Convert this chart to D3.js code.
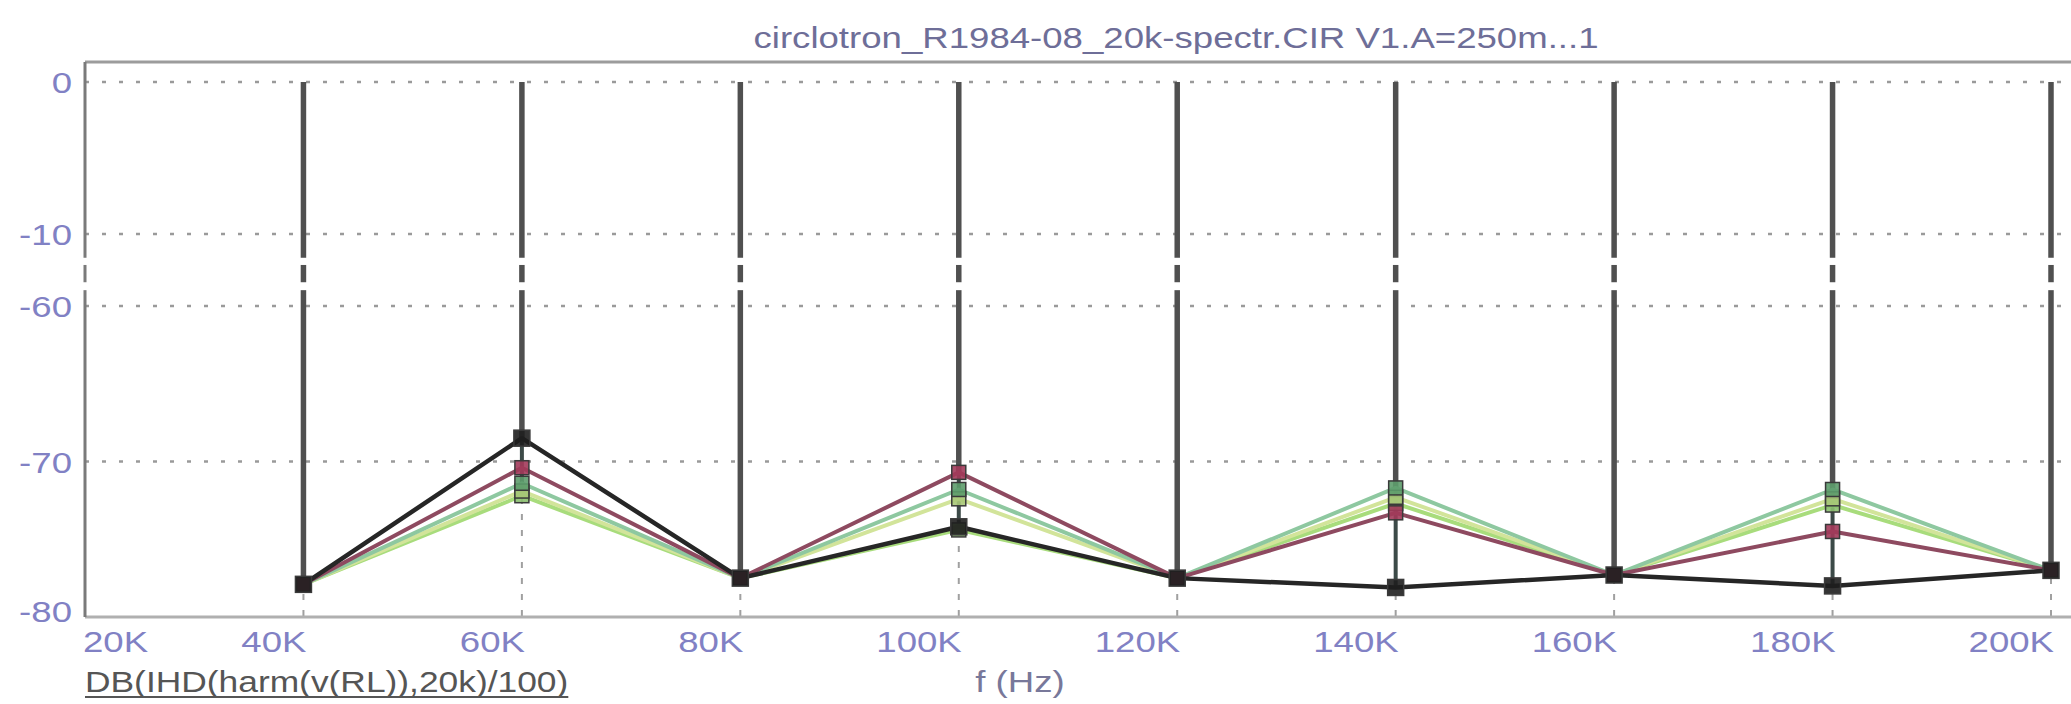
<!DOCTYPE html>
<html>
<head>
<meta charset="UTF-8">
<title>circlotron spectrum</title>
<style>
  html, body { margin: 0; padding: 0; background: #ffffff; }
  svg { display: block; }
  text { font-family: "Liberation Sans", Arial, sans-serif; }
</style>
</head>
<body>
<div id="vis"></div>
<script src="https://d3js.org/d3.v7.min.js"></script>
<script>
// harmonic frequencies (Hz) and the stepped curves, dB
var freqs = [40000, 60000, 80000, 100000, 120000, 140000, 160000, 180000, 200000];
var black  = [-77.9, -68.5, -77.5, -74.2, -77.5, -78.1, -77.3, -78.0, -77.0];
var maroon = [-77.9, -70.4, -77.5, -70.7, -77.5, -73.3, -77.3, -74.5, -77.0];
var green1 = [-77.9, -71.4, -77.5, -71.8, -77.5, -71.7, -77.3, -71.8, -77.0];
var green2 = [-77.9, -71.9, -77.5, -72.4, -77.5, -72.3, -77.3, -72.4, -77.0];
var green3 = [-77.9, -72.2, -77.5, -74.4, -77.5, -72.7, -77.3, -72.8, -77.0];

var xTicks = [20000, 40000, 60000, 80000, 100000, 120000, 140000, 160000, 180000, 200000];
var xTickLabels = ["20K", "40K", "60K", "80K", "100K", "120K", "140K", "160K", "180K", "200K"];
var yTicks = [0, -10, -60, -70, -80];
var yTickLabels = ["0", "-10", "-60", "-70", "-80"];

var title = "circlotron_R1984-08_20k-spectr.CIR V1.A=250m...1";
var yLabel = "DB(IHD(harm(v(RL)),20k)/100)";
var xLabel = "f (Hz)";

var width = 2071, height = 704;
var plotLeft = 85, plotRight = 2068, plotTop = 62;
var stretch = 1.22;   // the screenshot text is wide

var series = [
  {name: "green3", values: green3, color: "#a8dc7c", mark: "#8cc070"},
  {name: "green2", values: green2, color: "#d2e49a", mark: "#a8c878"},
  {name: "green1", values: green1, color: "#8ec8a0", mark: "#5d9c6c"},
  {name: "maroon", values: maroon, color: "#8e4a60", mark: "#a23a5a"},
  {name: "black",  values: black,  color: "#262626", mark: "#1e1e1e"}
];

var svg = d3.select("#vis").append("svg")
  .attr("width", width)
  .attr("height", height);

var x = d3.scaleLinear().domain([20000, 200000]).range([plotLeft, 2051]);
// broken axis: 0..-10 on top, -60..-80 below
var y = d3.scaleLinear().domain([-80, -60, -10, 0]).range([617, 306, 234, 82]);

function wideText(g, tx, ty, str, anchor, size, fill) {
  return g.append("text")
    .attr("transform", "translate(" + tx + "," + ty + ") scale(" + stretch + ",1)")
    .attr("text-anchor", anchor)
    .attr("font-size", size)
    .attr("fill", fill)
    .text(str);
}

// dotted grid
svg.append("g").selectAll("line")
  .data(yTicks.filter(function(d) { return d != -80; }))
  .enter().append("line")
  .attr("x1", plotLeft).attr("x2", plotRight)
  .attr("y1", function(d) { return y(d); })
  .attr("y2", function(d) { return y(d); })
  .attr("stroke", "#9a9a9a")
  .attr("stroke-width", 2.5)
  .attr("stroke-dasharray", "4,13");

svg.append("g").selectAll("line")
  .data(xTicks.slice(1))
  .enter().append("line")
  .attr("x1", function(d) { return x(d); })
  .attr("x2", function(d) { return x(d); })
  .attr("y1", y(0)).attr("y2", y(-80))
  .attr("stroke", "#a0a0a0")
  .attr("stroke-width", 2)
  .attr("stroke-dasharray", "6,10");

// frame
svg.append("line").attr("x1", plotLeft).attr("x2", width).attr("y1", plotTop).attr("y2", plotTop)
  .attr("stroke", "#9c9c9c").attr("stroke-width", 3);
svg.append("line").attr("x1", plotLeft).attr("x2", width).attr("y1", y(-80)).attr("y2", y(-80))
  .attr("stroke", "#b0b0b0").attr("stroke-width", 3);
svg.append("line").attr("x1", plotLeft).attr("x2", plotLeft).attr("y1", plotTop).attr("y2", y(-80))
  .attr("stroke", "#7a7a7a").attr("stroke-width", 3);

// spectral spikes from 0 dB down to the lowest curve
var maxs = freqs.map(function(f, i) {
  return d3.max(series, function(s) { return s.values[i]; });
});
var mins = freqs.map(function(f, i) {
  return d3.min(series, function(s) { return s.values[i]; });
});
svg.append("g").selectAll("line")
  .data(freqs)
  .enter().append("line")
  .attr("x1", function(d) { return x(d); })
  .attr("x2", function(d) { return x(d); })
  .attr("y1", y(0))
  .attr("y2", function(d, i) { return y(maxs[i]); })
  .attr("stroke", "#505050")
  .attr("stroke-width", 5.5);
svg.append("g").selectAll("line")
  .data(freqs)
  .enter().append("line")
  .attr("x1", function(d) { return x(d); })
  .attr("x2", function(d) { return x(d); })
  .attr("y1", function(d, i) { return y(maxs[i]); })
  .attr("y2", function(d, i) { return y(mins[i]); })
  .attr("stroke", "#3c4a48")
  .attr("stroke-width", 4);

// axis break
var b0 = y(-10), b1 = y(-60);
[[0.33, 0.43], [0.67, 0.78]].forEach(function(p) {
  svg.append("rect")
    .attr("x", plotLeft - 4).attr("width", width - plotLeft + 4)
    .attr("y", b0 + (b1 - b0) * p[0])
    .attr("height", (b1 - b0) * (p[1] - p[0]))
    .attr("fill", "#ffffff");
});

// curves
var line = d3.line()
  .x(function(d) { return x(d[0]); })
  .y(function(d) { return y(d[1]); });

series.forEach(function(s) {
  var pts = freqs.map(function(f, i) { return [f, s.values[i]]; });
  svg.append("path")
    .attr("d", line(pts))
    .attr("fill", "none")
    .attr("stroke", s.color)
    .attr("stroke-width", s.name == "black" ? 4.5 : 4)
    .attr("stroke-linejoin", "round");
});

series.forEach(function(s) {
  var sz = s.name == "black" ? 16 : 14;
  svg.append("g").selectAll("rect")
    .data(freqs)
    .enter().append("rect")
    .attr("x", function(d) { return x(d) - sz / 2; })
    .attr("y", function(d, i) { return y(s.values[i]) - sz / 2; })
    .attr("width", sz).attr("height", sz)
    .attr("fill", s.mark)
    .attr("stroke", "#3a3a3a")
    .attr("stroke-width", 1.5)
    .attr("fill-opacity", 0.9);
});

// tick labels
var labelColor = "#8181c4";
yTicks.forEach(function(d, i) {
  wideText(svg, 72, y(d) + (d == -80 ? 5 : 11), yTickLabels[i], "end", 30, labelColor);
});
xTicks.forEach(function(d, i) {
  if (i == 0) wideText(svg, plotLeft - 2, 652, xTickLabels[i], "start", 30, labelColor);
  else wideText(svg, x(d) + 3, 652, xTickLabels[i], "end", 30, labelColor);
});

// titles
wideText(svg, 1176, 48, title, "middle", 30, "#6e6e98");
var yl = wideText(svg, plotLeft, 692, yLabel, "start", 29, "#555555");
var ylw = yl.node().getComputedTextLength() * stretch;
svg.append("line").attr("x1", plotLeft).attr("x2", plotLeft + ylw).attr("y1", 697).attr("y2", 697)
  .attr("stroke", "#555555").attr("stroke-width", 2);
wideText(svg, 1020, 692, xLabel, "middle", 30, "#78789a");
</script>
</body>
</html>
